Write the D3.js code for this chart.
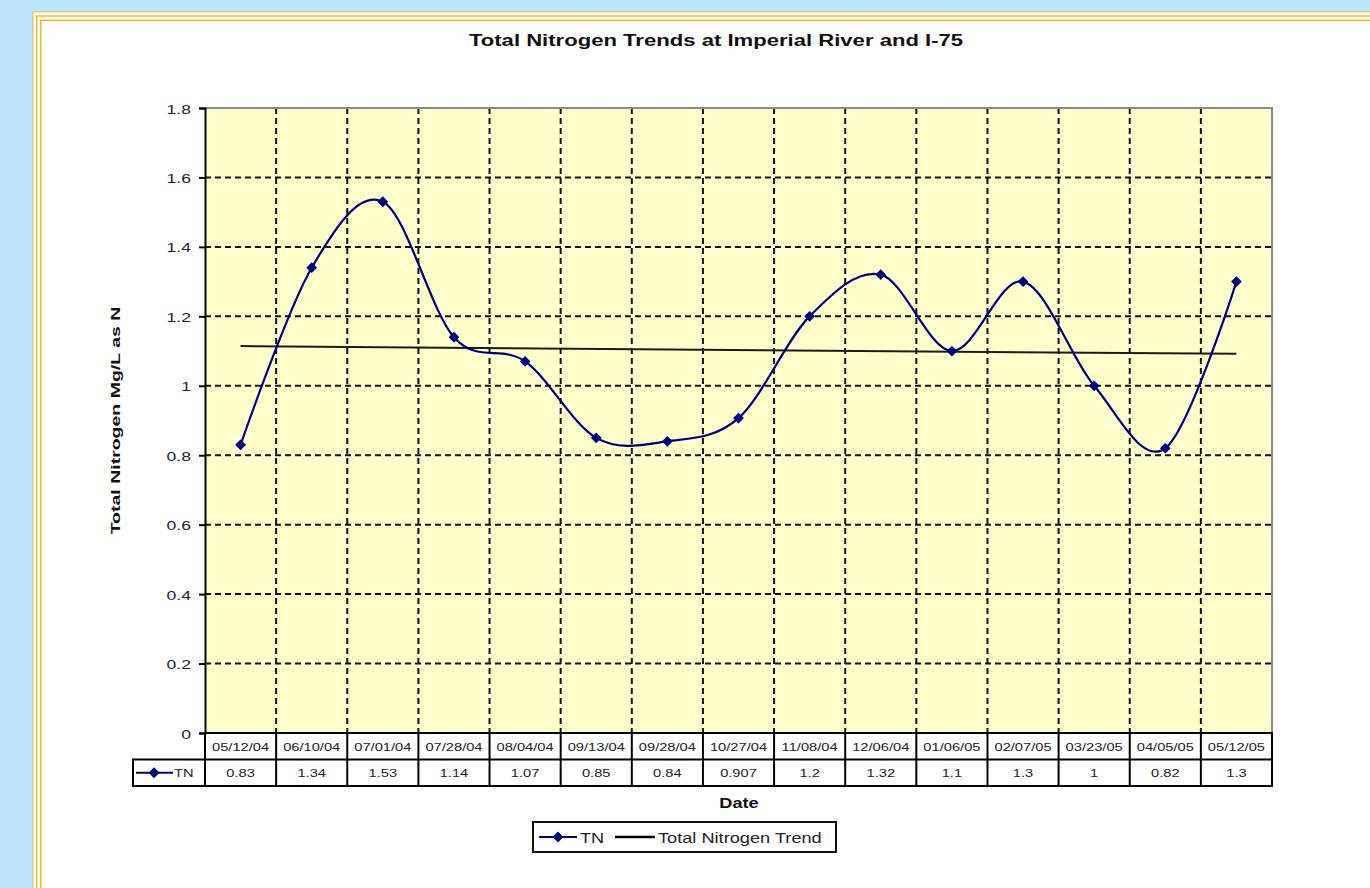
<!DOCTYPE html>
<html>
<head>
<meta charset="utf-8">
<script src="https://cdn.jsdelivr.net/npm/d3@7"></script>
<style>
  html, body { margin: 0; padding: 0; background: #bfe6ff; }
  svg { display: block; font-family: "Liberation Sans", Arial, sans-serif; }
</style>
</head>
<body>
<section id="grafico"></section>
<script>
const dates = ["05/12/04","06/10/04","07/01/04","07/28/04","08/04/04","09/13/04","09/28/04",
    "10/27/04","11/08/04","12/06/04","01/06/05","02/07/05","03/23/05","04/05/05","05/12/05"];
const tnValues = [0.83, 1.34, 1.53, 1.14, 1.07, 0.85, 0.84, 0.907, 1.2, 1.32, 1.1, 1.3, 1, 0.82, 1.3];
const tnLabels = ["0.83","1.34","1.53","1.14","1.07","0.85","0.84","0.907","1.2","1.32","1.1","1.3","1","0.82","1.3"];
const yTicks = [0, 0.2, 0.4, 0.6, 0.8, 1, 1.2, 1.4, 1.6, 1.8];

const width = 1370;
const height = 888;
const plotL = 205, plotR = 1272, plotT = 108, plotB = 733;
const rowH = 26.5;
const navy = "#00007f";
const SX = 1.3; // the original text is drawn wide

const svg = d3.select("section#grafico")
    .append("svg")
    .attr("width", width)
    .attr("height", height);

// stretched text helper
function label(g, x, y, str, size, anchor, bold, sx = SX) {
    return g.append("text")
        .attr("transform", `translate(${x},${y}) scale(${sx},1)`)
        .attr("text-anchor", anchor)
        .attr("font-size", size)
        .attr("font-weight", bold ? "bold" : "normal")
        .attr("fill", bold ? "#111" : "#222")
        .text(str);
}

// page frame
svg.append("rect").attr("x", 32).attr("y", 11).attr("width", 1400).attr("height", 900).attr("fill", "#fff");
svg.append("rect").attr("x", 32.75).attr("y", 11.75).attr("width", 1400).attr("height", 900)
    .attr("fill", "none").attr("stroke", "#e9c46e").attr("stroke-width", 1.5);
svg.append("rect").attr("x", 36.6).attr("y", 16).attr("width", 1400).attr("height", 900)
    .attr("fill", "none").attr("stroke", "#ffb300").attr("stroke-width", 1.3);
svg.append("rect").attr("x", 40.8).attr("y", 20.3).attr("width", 1400).attr("height", 900)
    .attr("fill", "none").attr("stroke", "#ffa800").attr("stroke-width", 1.3);

const xScale = d3.scaleBand().domain(dates).range([plotL, plotR]).padding(0);
const xc = d => xScale(d) + xScale.bandwidth() / 2;
const yScale = d3.scaleLinear().domain([0, 1.8]).range([plotB, plotT]);

// plot area
svg.append("rect")
    .attr("x", plotL).attr("y", plotT)
    .attr("width", plotR - plotL).attr("height", plotB - plotT)
    .attr("fill", "#ffffcc");

// gridlines
svg.append("g").selectAll("line")
    .data(yTicks.filter(v => v > 0 && v < 1.8))
    .join("line")
    .attr("x1", plotL).attr("x2", plotR)
    .attr("y1", d => yScale(d)).attr("y2", d => yScale(d))
    .attr("stroke", "#111").attr("stroke-width", 2).attr("stroke-dasharray", "6,4");

svg.append("g").selectAll("line")
    .data(dates.slice(1))
    .join("line")
    .attr("x1", d => xScale(d)).attr("x2", d => xScale(d))
    .attr("y1", plotT).attr("y2", plotB)
    .attr("stroke", "#111").attr("stroke-width", 2).attr("stroke-dasharray", "6,4");

// border top / right
svg.append("path")
    .attr("d", `M${plotL},${plotT}H${plotR}V${plotB}`)
    .attr("fill", "none").attr("stroke", "#8a8a8a").attr("stroke-width", 2);

// y axis
const yAxis = d3.axisLeft(yScale).tickValues(yTicks).tickSize(6).tickPadding(0)
    .tickFormat(d => d3.format("")(+d.toFixed(1)));
const yg = svg.append("g").attr("transform", `translate(${plotL},0)`).call(yAxis);
yg.select(".domain").attr("stroke", "#000").attr("stroke-width", 2);
yg.selectAll(".tick line").attr("stroke", "#000").attr("stroke-width", 2);
yg.selectAll(".tick text")
    .attr("x", null).attr("dy", null)
    .attr("transform", `translate(-14,5) scale(${SX},1)`)
    .attr("font-size", 13.5).attr("fill", "#222")
    .attr("font-family", "'Liberation Sans', Arial, sans-serif");

// trend line (least squares)
const n = tnValues.length;
const xs = d3.range(n);
const mx = d3.mean(xs), my = d3.mean(tnValues);
const slope = d3.sum(xs, i => (i - mx) * (tnValues[i] - my)) / d3.sum(xs, i => (i - mx) ** 2);
const icpt = my - slope * mx;
svg.append("line")
    .attr("x1", xc(dates[0])).attr("x2", xc(dates[n - 1]))
    .attr("y1", yScale(icpt)).attr("y2", yScale(icpt + slope * (n - 1)))
    .attr("stroke", "#1a1a1a").attr("stroke-width", 2);

// TN line
const line = d3.line()
    .x((d, i) => xc(dates[i]))
    .y(d => yScale(d))
    .curve(d3.curveCardinal.tension(0));
svg.append("path")
    .datum(tnValues)
    .attr("d", line)
    .attr("fill", "none").attr("stroke", navy).attr("stroke-width", 2.2);

const diamond = d3.symbol().type(d3.symbolSquare).size(58);
svg.append("g").selectAll("path")
    .data(tnValues)
    .join("path")
    .attr("d", diamond)
    .attr("transform", (d, i) => `translate(${xc(dates[i])},${yScale(d)}) rotate(45)`)
    .attr("fill", navy);

// data table
const tbl = svg.append("g");
const r1 = plotB, r2 = plotB + rowH, r3 = plotB + 2 * rowH;
const legL = 133;
tbl.append("path")
    .attr("d", `M${plotL},${r1}H${plotR}V${r3}H${legL}V${r2}H${plotR}M${plotL},${r1}V${r3}`)
    .attr("fill", "none").attr("stroke", "#000").attr("stroke-width", 2);
tbl.selectAll("line.sep")
    .data(dates.slice(1))
    .join("line")
    .attr("class", "sep")
    .attr("x1", d => xScale(d)).attr("x2", d => xScale(d))
    .attr("y1", r1).attr("y2", r3)
    .attr("stroke", "#000").attr("stroke-width", 2);
dates.forEach(d => label(tbl, xc(d), (r1 + r2) / 2 + 4.5, d, 11.3, "middle", false));
tnLabels.forEach((d, i) => label(tbl, xc(dates[i]), (r2 + r3) / 2 + 4.5, d, 11.3, "middle", false));

// legend key inside table
const keyY = (r2 + r3) / 2;
tbl.append("line").attr("x1", legL + 3).attr("x2", legL + 40).attr("y1", keyY).attr("y2", keyY)
    .attr("stroke", navy).attr("stroke-width", 2);
tbl.append("path").attr("d", diamond).attr("transform", `translate(${legL + 21},${keyY}) rotate(45)`)
    .attr("fill", navy);
label(tbl, legL + 41, keyY + 4.5, "TN", 11.3, "start", false);

// titles
label(svg, 716, 46, "Total Nitrogen Trends at Imperial River and I-75", 17, "middle", true);

svg.append("text")
    .attr("transform", `translate(120,${(plotT + plotB) / 2}) rotate(-90) scale(1.5,1)`)
    .attr("text-anchor", "middle").attr("font-size", 13).attr("font-weight", "bold").attr("fill", "#111")
    .text("Total Nitrogen Mg/L as N");

label(svg, 739, 808, "Date", 14, "middle", true);

// legend
const lg = svg.append("g").attr("transform", "translate(533,822)");
lg.append("rect").attr("x", 0).attr("y", 0).attr("width", 303).attr("height", 30)
    .attr("fill", "#fff").attr("stroke", "#111").attr("stroke-width", 2);
lg.append("line").attr("x1", 6).attr("x2", 44).attr("y1", 15).attr("y2", 15)
    .attr("stroke", navy).attr("stroke-width", 2);
lg.append("path").attr("d", diamond).attr("transform", "translate(25,15) rotate(45)").attr("fill", navy);
label(lg, 47, 20.5, "TN", 14, "start", false);
lg.append("line").attr("x1", 82).attr("x2", 122).attr("y1", 15).attr("y2", 15)
    .attr("stroke", "#000").attr("stroke-width", 2.5);
label(lg, 125, 20.5, "Total Nitrogen Trend", 14, "start", false);
</script>
</body>
</html>
